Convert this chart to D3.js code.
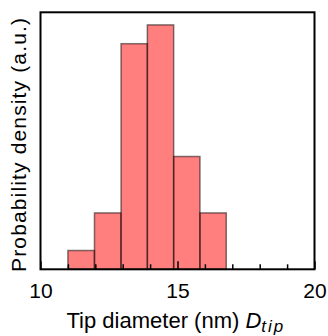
<!DOCTYPE html>
<html>
<head>
<meta charset="utf-8">
<script src="https://cdn.jsdelivr.net/npm/d3@7"></script>
<style>
  body { margin: 0; background: #fff; }
  svg { display: block; font-family: "Liberation Sans", Arial, Helvetica, sans-serif; }
  .axis path { display: none; }
  .axis line { stroke: #000; stroke-width: 1.5; }
  .axis text { font-size: 21px; fill: #000; }
</style>
</head>
<body>
<div id="chart"></div>
<script>
// histogram bins (tip diameter, nm) and counts
const binEdges = [11.0, 11.97, 12.94, 13.9, 14.86, 15.82, 16.78];
const counts = [1, 3, 12, 13, 6, 3];
const majorTicks = [10, 15, 20];
const minorTicks = [11, 12, 13, 14, 16, 17, 18, 19];

const width = 328, height = 336,
    margin = ({ top: 12.3, right: 13.5, bottom: 66.7, left: 40.5 });

const bins = counts.map((c, i) => ({ x0: binEdges[i], x1: binEdges[i + 1], n: c }));

const svg = d3.select("#chart")
    .append("svg")
    .attr("width", width)
    .attr("height", height);

let x = d3.scaleLinear()
    .domain([10, 20])
    .range([margin.left, width - margin.right]);

let y = d3.scaleLinear()
    .domain([0, 13.67])
    .range([height - margin.bottom, margin.top]);

// bars (translucent red with translucent dark edges)
svg.append("g")
  .selectAll("rect")
  .data(bins)
  .join("rect")
    .attr("x", d => x(d.x0))
    .attr("y", d => y(d.n))
    .attr("width", d => x(d.x1) - x(d.x0))
    .attr("height", d => y(0) - y(d.n))
    .attr("fill", "rgba(255,0,0,0.5)")
    .attr("stroke", "rgba(0,0,0,0.5)")
    .attr("stroke-width", 1.5);

// minor ticks, pointing inward
svg.append("g")
    .attr("class", "axis")
    .attr("transform", `translate(0,${height - margin.bottom})`)
    .call(d3.axisBottom(x).tickValues(minorTicks).tickSize(-5).tickFormat(""));

// major ticks + labels
svg.append("g")
    .attr("class", "axis")
    .attr("transform", `translate(0,${height - margin.bottom})`)
    .call(d3.axisBottom(x).tickValues(majorTicks).tickSize(-8).tickPadding(14).tickFormat(d3.format("d")));

// frame
svg.append("rect")
    .attr("x", margin.left)
    .attr("y", margin.top)
    .attr("width", width - margin.left - margin.right)
    .attr("height", height - margin.top - margin.bottom)
    .attr("fill", "none")
    .attr("stroke", "#000")
    .attr("stroke-width", 2);

// x label
let xl = svg.append("text")
    .attr("x", 66.5)
    .attr("y", 327.5)
    .attr("text-anchor", "start")
    .attr("font-size", 22);
xl.append("tspan").text("Tip diameter (nm) ");
xl.append("tspan").attr("font-style", "italic").text("D");
xl.append("tspan").attr("font-style", "italic").attr("font-size", 17)
    .attr("letter-spacing", 2).attr("dy", 4).text("tip");

// y label
svg.append("text")
    .attr("transform", `translate(26,145) rotate(-90)`)
    .attr("text-anchor", "middle")
    .attr("font-size", 21)
    .attr("textLength", 254)
    .attr("lengthAdjust", "spacing")
    .text("Probability density (a.u.)");
</script>
</body>
</html>
